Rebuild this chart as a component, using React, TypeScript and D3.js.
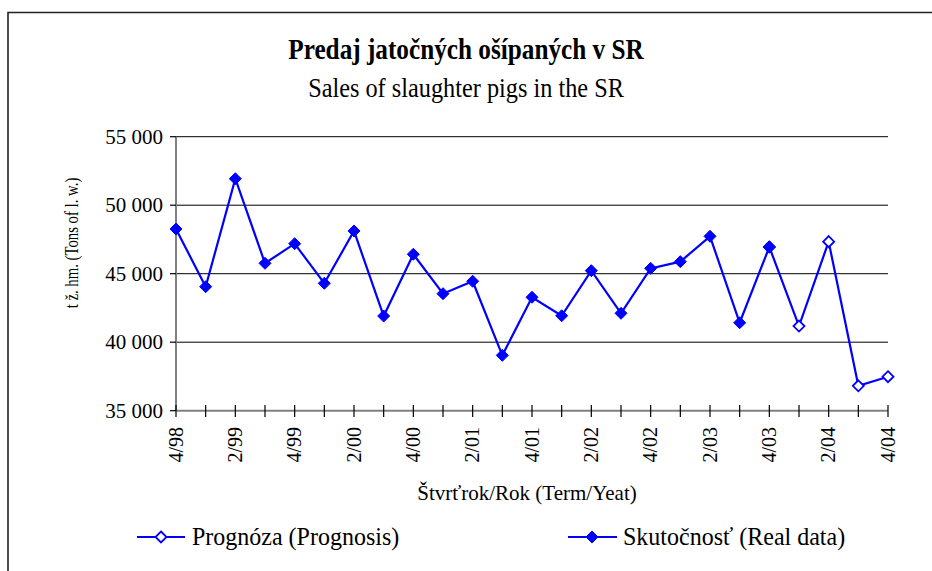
import React from "react";
import * as d3 from "d3";

const categories = [
  "4/98", "1/99", "2/99", "3/99", "4/99", "1/00", "2/00", "3/00", "4/00",
  "1/01", "2/01", "3/01", "4/01", "1/02", "2/02", "3/02", "4/02",
  "1/03", "2/03", "3/03", "4/03", "1/04", "2/04", "3/04", "4/04",
];
const realData: (number | null)[] = [
  48260, 44050, 51930, 45760, 47190, 44300, 48120, 41910, 46420,
  43540, 44450, 39040, 43280, 41930, 45220, 42110, 45390,
  45880, 47730, 41420, 46950, null, null, null, null,
];
const prognosis: (number | null)[] = [
  null, null, null, null, null, null, null, null, null,
  null, null, null, null, null, null, null, null,
  null, null, null, 46950, 41180, 47340, 36820, 37480,
];
const yTicks = [35000, 40000, 45000, 50000, 55000];
const shownLabels = categories.filter((_, i) => i % 2 === 0);

const FONT = "'Liberation Serif', 'Times New Roman', serif";
const BLUE = "#0000FF";

function diamond(cx: number, cy: number, r: number) {
  return `M${cx},${cy - r}L${cx + r},${cy}L${cx},${cy + r}L${cx - r},${cy}Z`;
}

export default function App() {
  const x = d3.scalePoint<string>().domain(categories).range([176, 888]);
  const y = d3.scaleLinear().domain([35000, 55000]).range([410.7, 136.7]);
  const fmt = (v: number) => d3.format(",")(v).replace(",", " ");

  const line = d3
    .line<number | null>()
    .defined((d) => d !== null)
    .x((_, i) => x(categories[i]) as number)
    .y((d) => y(d as number));

  return (
    <svg
      width={932}
      height={571}
      style={{ position: "absolute", left: 0, top: 0, background: "#fff" }}
      fontFamily={FONT}
    >
      <rect x={0} y={0} width={932} height={571} fill="#fff" />
      <path d="M8,571V12.5H932" fill="none" stroke="#222" strokeWidth={1.6} />

      <text transform="translate(466,59) scale(0.87,1)" textAnchor="middle" fontSize={29} fontWeight="bold">
        Predaj jatočných ošípaných v SR
      </text>
      <text transform="translate(466,97) scale(0.9,1)" textAnchor="middle" fontSize={27}>
        Sales of slaughter pigs in the SR
      </text>

      {/* gridlines */}
      {yTicks.slice(1).map((t) => (
        <line key={t} x1={176} x2={888} y1={y(t)} y2={y(t)} stroke="#000" strokeWidth={1} />
      ))}
      {/* y axis */}
      <line x1={176} x2={176} y1={y(55000)} y2={y(35000)} stroke="#808080" strokeWidth={2} />
      {yTicks.map((t) => (
        <g key={t}>
          <line x1={170} x2={176} y1={y(t)} y2={y(t)} stroke="#000" strokeWidth={1.2} />
          <text x={163} y={y(t)} dy="0.34em" textAnchor="end" fontSize={21}>
            {fmt(t)}
          </text>
        </g>
      ))}
      {/* x axis */}
      <line x1={176} x2={888} y1={y(35000)} y2={y(35000)} stroke="#808080" strokeWidth={2} />
      {categories.map((c) => (
        <line key={c} x1={x(c)} x2={x(c)} y1={405} y2={417} stroke="#000" strokeWidth={1.2} />
      ))}
      {shownLabels.map((c) => (
        <text
          key={c}
          transform={`translate(${(x(c) as number) + 6.5},427) rotate(-90)`}
          textAnchor="end"
          fontSize={20}
        >
          {c}
        </text>
      ))}

      <text transform="translate(527,500)" textAnchor="middle" fontSize={21}>
        Štvrťrok/Rok (Term/Yeat)
      </text>
      <text transform="translate(78,243) rotate(-90) scale(0.82,1)" textAnchor="middle" fontSize={18}>
        t ž. hm. (Tons of l. w.)
      </text>

      {/* series */}
      <path d={line(prognosis) || ""} fill="none" stroke={BLUE} strokeWidth={2.2} />
      {prognosis.map((d, i) =>
        d === null ? null : (
          <path key={i} d={diamond(x(categories[i]) as number, y(d), 5.5)} fill="#fff" stroke={BLUE} strokeWidth={1.8} />
        )
      )}
      <path d={line(realData) || ""} fill="none" stroke={BLUE} strokeWidth={2.2} />
      {realData.map((d, i) =>
        d === null ? null : (
          <path key={i} d={diamond(x(categories[i]) as number, y(d), 6)} fill={BLUE} stroke={BLUE} strokeWidth={1} />
        )
      )}

      {/* legend */}
      <line x1={137} x2={185} y1={537} y2={537} stroke={BLUE} strokeWidth={2.2} />
      <path d={diamond(161, 537, 5.5)} fill="#fff" stroke={BLUE} strokeWidth={1.8} />
      <text transform="translate(192,545) scale(0.96,1)" fontSize={25}>Prognóza (Prognosis)</text>
      <line x1={568} x2={617} y1={537} y2={537} stroke={BLUE} strokeWidth={2.2} />
      <path d={diamond(592, 537, 6)} fill={BLUE} stroke={BLUE} strokeWidth={1} />
      <text transform="translate(623,545) scale(0.96,1)" fontSize={25}>Skutočnosť (Real data)</text>
    </svg>
  );
}
